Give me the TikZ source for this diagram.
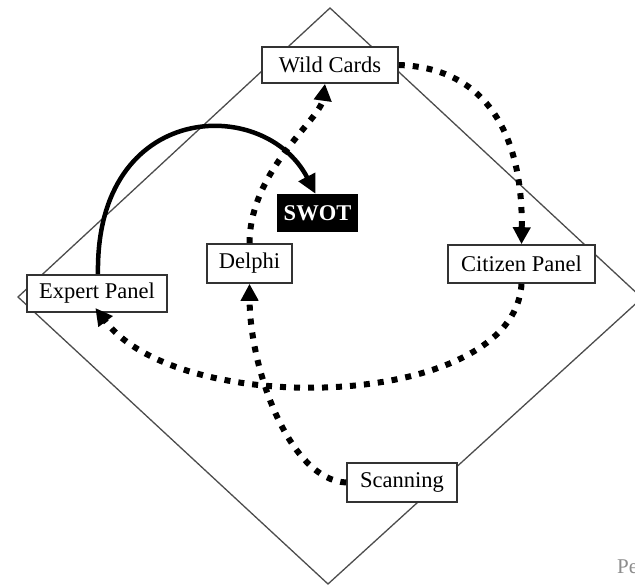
\documentclass[tikz,border=0pt]{standalone}
\usepackage{fontspec}
\setmainfont{Liberation Serif}
\usetikzlibrary{arrows.meta}
\begin{document}
\begin{tikzpicture}[x=1pt,y=-1pt,
  labelbox/.style={draw=black!80, line width=1.6pt, fill=white, inner sep=0pt,
    font=\fontsize{22.5}{25}\selectfont},
  darkbox/.style={fill=black, text=white, inner sep=0pt,
    font=\fontsize{22.5}{25}\selectfont\bfseries},
  dotarrow/.style={line width=6pt, dash pattern=on 6pt off 8pt,
    -{Triangle[length=17pt,width=17pt]}},
  solidarrow/.style={line width=4.5pt, -{Triangle[length=19pt,width=18pt]}}
]
\useasboundingbox (0,0) rectangle (635,585);
\begin{scope}
\clip (0,0) rectangle (635,585);
% outer diamond
\draw[black!70, line width=1.3pt] (330,8) -- (642,298) -- (328,584) -- (18,297) -- cycle;

% boxes
\node[labelbox, minimum width=136pt, minimum height=36pt] (wild) at (330,65) {Wild Cards};
\node[darkbox, minimum width=81pt, minimum height=38pt] (swot) at (317.5,213) {SWOT};
\node[labelbox, minimum width=85pt, minimum height=39pt] (delphi) at (249.5,263.5) {Delphi};
\node[labelbox, minimum width=140pt, minimum height=37pt] (expert) at (97,293.5) {Expert Panel};
\node[labelbox, minimum width=147pt, minimum height=38pt] (citizen) at (521.5,264) {Citizen Panel};
\node[labelbox, minimum width=110pt, minimum height=39pt] (scan) at (402,482.5) {Scanning};

% connectors
\draw[dotarrow] (wild.east) .. controls (490,68) and (523,140) .. (citizen.north);
\draw[dotarrow, shorten >=-6pt] (citizen.south) .. controls (515,410) and (180,420) .. ([xshift=2pt]expert.south);
\draw[dotarrow] (scan.west) .. controls (290,480) and (250,370) .. (delphi.south);
\draw[dotarrow] (delphi.north) .. controls (250,170) and (320,120) .. ([xshift=-5pt]wild.south);
\draw[solidarrow] ([xshift=1pt]expert.north) .. controls (95,100) and (265,95) .. ([xshift=-2pt]swot.north);

% trailing caption at the page edge
\node[anchor=base west, text=black!45, inner sep=0pt,
  font=\fontsize{21}{24}\selectfont] (cap) at (617,573) {Pe};
\end{scope}
\end{tikzpicture}
\end{document}
